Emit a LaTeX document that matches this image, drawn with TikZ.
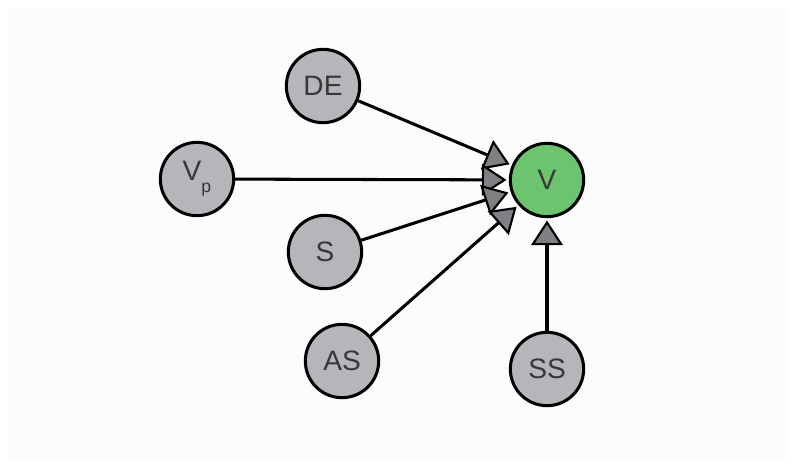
\documentclass[tikz,border=0pt]{standalone}
\usepackage{fontspec}
\setmainfont{Liberation Sans}
\usetikzlibrary{arrows.meta}
\definecolor{nodegray}{RGB}{180,182,186}
\definecolor{tipgray}{RGB}{128,128,132}
\definecolor{nodegreen}{RGB}{108,196,110}
\definecolor{ink}{RGB}{55,55,55}
\definecolor{paper}{RGB}{252,252,252}
\begin{document}
\begin{tikzpicture}[x=0.03cm,y=-0.03cm,
                    var/.style={circle,draw,line width=2.6pt,fill=nodegray,
                                minimum size=2.2cm,inner sep=0pt,text=ink,
                                font=\fontsize{24}{24}\selectfont},
                    dep/.style={line width=2.6pt,shorten >=2pt,
                                -{Triangle[fill=tipgray,length=21pt,width=27pt,line width=1.8pt]}}]
  \useasboundingbox (0,0) rectangle (794,469);
  \fill[paper] (8,8) rectangle (786,461);
  % parents of V
  \node[var] (DE) at (323,86)  {DE};
  \node[var] (Vp) at (197,179) {V\raisebox{-0.8ex}{\fontsize{15}{15}\selectfont p}};
  \node[var] (S)  at (325,252) {S};
  \node[var] (AS) at (342,361) {AS};
  \node[var] (SS) at (547,369) {SS};
  \node[var,fill=nodegreen] (V) at (547,180) {V};
  \foreach \src in {DE,Vp,S,AS,SS}
    \draw[dep] (\src) -- (V);
\end{tikzpicture}
\end{document}
